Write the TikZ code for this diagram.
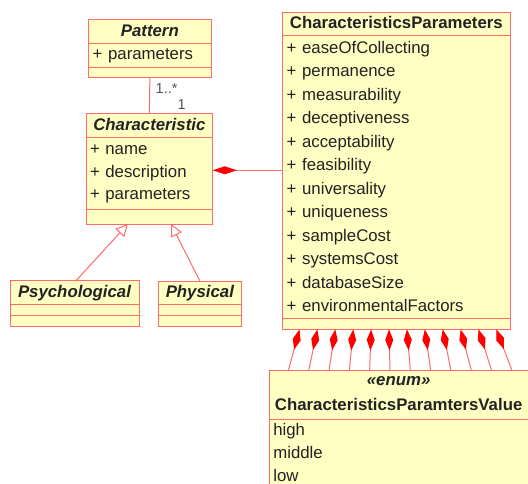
\documentclass[tikz,border=0pt]{standalone}
\usepackage{fontspec}
\setmainfont{Liberation Sans}
\usepackage{tikz}
\usetikzlibrary{calc}
\usetikzlibrary{arrows.meta}
\usetikzlibrary{positioning}

\definecolor{umlfill}{HTML}{FFFFC4}
\definecolor{umlline}{HTML}{FF6A6A}
\definecolor{umltext}{HTML}{222222}
\definecolor{multtext}{HTML}{555555}

\newcommand{\clsfont}{\fontsize{16.8}{23.5}\selectfont}

\tikzset{umlbox/.style={draw=umlline,fill=umlfill,line width=1pt,inner xsep=4pt,inner ysep=0pt,outer sep=0pt,text=umltext}}
\tikzset{umlhead/.style={umlbox,inner xsep=1pt,minimum width=#1,text width=#1-2pt,align=center,font=\clsfont\bfseries\itshape,text height=16.7pt,text depth=6.8pt}}
\tikzset{umlattr/.style 2 args={umlbox,text width=#1-8pt,align=left,font=\clsfont,text height=17.3pt,text depth=#2}}
\tikzset{umlops/.style 2 args={umlbox,minimum width=#1,minimum height=#2,text height=0pt,text depth=0pt}}
\tikzset{mult/.style={font=\fontsize{14.5}{16}\selectfont,text=multtext,inner sep=0pt}}
\tikzset{assoc/.style={draw=umlline,line width=1pt}}
\tikzset{gen/.style={draw=umlline,line width=1pt,-{Triangle[length=12pt,width=12pt,fill=white]}}}
\tikzset{comp/.style={draw=umlline,line width=1pt,-{Diamond[color=red,fill=red,length=#1,width=8pt]}},comp/.default=21pt}

\begin{document}
\begin{tikzpicture}[x=1pt,y=-1pt]
\useasboundingbox (0,0) rectangle (528,484);
\clip (0,0) rectangle (528,484);

% Pattern
\node[umlhead=122.3pt, anchor=north west] (patHead) at (88.7,20) {Pattern};
\node[umlattr={122.3pt}{7.7pt}, text height=16.3pt, below=0pt of patHead] (patAttr) {+ parameters};
\node[umlops={122.3pt}{10.5pt}, below=0pt of patAttr] (patOps) {};

% Characteristic
\node[umlhead=126.7pt, anchor=north west] (charHead) at (86,114) {Characteristic};
\node[umlattr={126.7pt}{54.3pt}, font=\fontsize{16.8}{22.5}\selectfont, below=0pt of charHead] (charAttr) {+ name\\+ description\\+ parameters};
\node[umlops={126.7pt}{15pt}, below=0pt of charAttr] (charOps) {};

% subclasses
\node[umlhead=129pt, anchor=north west] (psyHead) at (10,280.7) {Psychological};
\node[umlops={129pt}{11.4pt}, below=0pt of psyHead] (psyAttr) {};
\node[umlops={129pt}{11pt}, below=0pt of psyAttr] (psyOps) {};

\node[umlhead=83.7pt, anchor=north west] (phyHead) at (158,281) {Physical};
\node[umlops={83.7pt}{11.4pt}, below=0pt of phyHead] (phyAttr) {};
\node[umlops={83.7pt}{11pt}, below=0pt of phyAttr] (phyOps) {};

% CharacteristicsParameters
\node[umlhead=227.3pt, font=\clsfont\bfseries, anchor=north west] (cpHead) at (282.7,12.3) {CharacteristicsParameters};
\node[umlattr={227.3pt}{265.1pt}, text height=17.5pt, below=0pt of cpHead] (cpAttr) {+ easeOfCollecting\\+ permanence\\+ measurability\\+ deceptiveness\\+ acceptability\\+ feasibility\\+ universality\\+ uniqueness\\+ sampleCost\\+ systemsCost\\+ databaseSize\\+ environmentalFactors};
\node[umlops={227.3pt}{11pt}, below=0pt of cpAttr] (cpOps) {};

% enum
\node[umlhead=258.7pt, text height=15pt, text depth=34pt, font=\fontsize{16.8}{25}\selectfont\bfseries, anchor=north west] (enumHead) at (269.3,370) {\textit{«enum»}\\CharacteristicsParamtersValue};
\node[umlattr={258.7pt}{65pt}, text height=16pt, font=\fontsize{16.8}{23}\selectfont, below=0pt of enumHead] (enumAttr) {high\\middle\\low};

% Pattern -- Characteristic
\draw[assoc] (patOps.south) -- (charHead.north);
\node[mult, anchor=base west] (multMany) at (155.5,93.3) {1..*};
\node[mult, anchor=base west] (multOne) at (177.5,109.3) {1};

% generalisations
\coordinate (genL) at ($(charOps.south)+(-21.5,0)$);
\coordinate (genR) at ($(charOps.south)+(21.7,0)$);
\coordinate (psyTop) at ($(psyHead.north)+(1.5,0)$);
\draw[gen] (psyTop) -- (genL);
\draw[gen] (phyHead.north) -- (genR);

% compositions
\coordinate (whole) at ($(charAttr.east)+(0,-3)$);
\draw[comp=24pt] (cpAttr.west |- whole) -- (whole);

\foreach \i in {0,...,11} {
  \coordinate (cpEnd\i) at ($(cpOps.south west)+(16.8+17.9*\i,0)$);
  \coordinate (enEnd\i) at ($(enumHead.north west)+(19.2+20.3*\i,0)$);
  \draw[comp] (enEnd\i) -- (cpEnd\i);
}

\end{tikzpicture}
\end{document}
